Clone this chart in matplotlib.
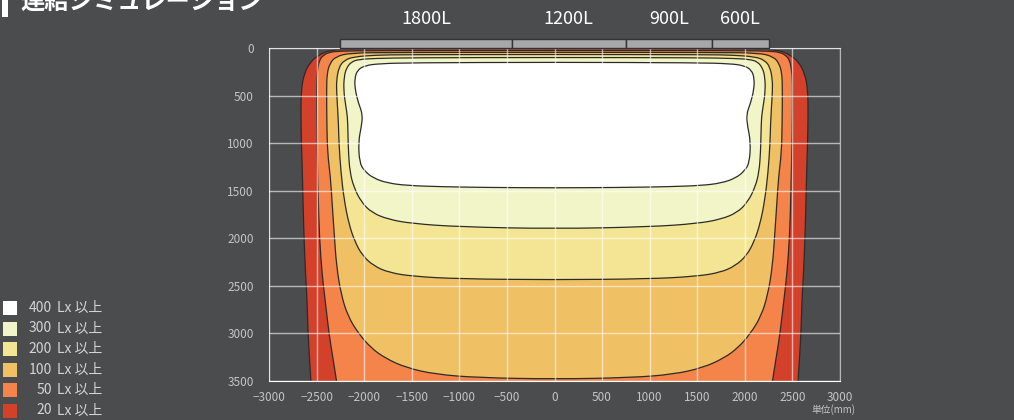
import matplotlib
matplotlib.use('Agg')
import matplotlib.pyplot as plt
from matplotlib.patches import Rectangle, PathPatch
from matplotlib.path import Path
import numpy as np

plt.rcParams['font.family'] = ['Noto Sans CJK JP', 'DejaVu Sans']

BG = '#4b4c4e'
W, H = 1014, 420

# lights along the ceiling (mm)
light_names = ['1800L', '1200L', '900L', '600L']
light_len = [1800, 1200, 900, 600]
light_start = -2250

# iso-lux levels, outer to inner
levels = [20, 50, 100, 200, 300, 400]
level_colors = ['#d4412a', '#f5844a', '#f0c064', '#f4e594', '#f2f5c8', '#ffffff']

# right half of each iso-lux line (x mm, depth mm), from top centre to bottom centre
lx20_x = [0, 2100, 2360, 2476, 2560, 2630, 2662, 2665, 2660, 2650, 2640, 2632, 2615, 2600, 2590, 2575, 2560, 2550, 0]
lx20_y = [8, 10, 21, 74, 140, 266, 441, 700, 966, 1300, 1700, 2000, 2400, 2650, 3000, 3250, 3500, 3650, 3650]

lx50_x = [0, 1900, 2250, 2370, 2435, 2470, 2490, 2500, 2500, 2495, 2485, 2470, 2440, 2410, 2370, 2330, 2290, 2270, 0]
lx50_y = [25, 27, 32, 45, 80, 130, 220, 350, 600, 1000, 1500, 2000, 2400, 2650, 3000, 3250, 3500, 3650, 3650]

lx100_x = [0, 1700, 2150, 2300, 2360, 2390, 2395, 2392, 2385, 2355, 2335, 2315, 2290, 2240, 2170, 2060, 1930, 1780, 1560, 1250, 800, 0]
lx100_y = [45, 47, 52, 91, 161, 266, 441, 800, 1100, 1350, 1650, 1950, 2300, 2600, 2820, 3000, 3150, 3260, 3360, 3430, 3465, 3480]

lx200_x = [0, 1600, 1870, 2110, 2210, 2265, 2290, 2290, 2280, 2270, 2265, 2245, 2210, 2160, 2100, 2020, 1900, 1740, 1490, 1000, 0]
lx200_y = [68, 70, 75, 92, 130, 200, 336, 450, 620, 800, 1000, 1300, 1600, 1850, 2030, 2180, 2290, 2360, 2400, 2427, 2436]

lx300_x = [0, 1500, 1900, 2050, 2135, 2187, 2210, 2216, 2195, 2175, 2170, 2165, 2150, 2110, 2030, 1920, 1750, 1500, 1000, 0]
lx300_y = [100, 102, 110, 120, 144, 213, 300, 440, 600, 720, 900, 1100, 1300, 1460, 1620, 1730, 1800, 1845, 1880, 1900]

lx400_x = [0, 1500, 1850, 1990, 2070, 2100, 2095, 2060, 2015, 2030, 2060, 2050, 2000, 1900, 1750, 1550, 1200, 700, 0]
lx400_y = [150, 155, 165, 185, 230, 320, 440, 580, 700, 830, 980, 1200, 1290, 1370, 1420, 1445, 1458, 1466, 1470]

contours = [(lx20_x, lx20_y), (lx50_x, lx50_y), (lx100_x, lx100_y),
            (lx200_x, lx200_y), (lx300_x, lx300_y), (lx400_x, lx400_y)]


def smooth_closed_path(pts):
    # quadratic bezier through the midpoints, the traced points act as control points
    n = len(pts)
    mids = (pts + np.roll(pts, -1, axis=0)) / 2
    verts = [mids[-1]]
    codes = [Path.MOVETO]
    for i in range(n):
        verts += [pts[i], mids[i]]
        codes += [Path.CURVE3, Path.CURVE3]
    return Path(np.array(verts), codes)


fig = plt.figure(figsize=(W / 100, H / 100), dpi=100, facecolor=BG)
ax = fig.add_axes([269 / W, 1 - 381 / H, 571 / W, 333 / H])
ax.set_facecolor(BG)

for (hx, hy), col in zip(contours, level_colors):
    hx = np.array(hx, float)
    hy = np.array(hy, float)
    px = np.concatenate([hx, -hx[-2:0:-1]])
    py = np.concatenate([hy, hy[-2:0:-1]])
    path = smooth_closed_path(np.column_stack([px, py]))
    ax.add_patch(PathPatch(path, facecolor=col, edgecolor='#2b2b2b', lw=0.9, zorder=1))

ax.set_xlim(-3000, 3000)
ax.set_ylim(3500, 0)
ax.set_xticks(np.arange(-3000, 3001, 500))
ax.set_yticks(np.arange(0, 3501, 500))
ax.set_axisbelow(False)
ax.grid(True, color='white', alpha=0.6, lw=1)
ax.tick_params(length=0, labelsize=8.5, labelcolor='#c4c4c4')
ax.tick_params(axis='y', pad=11)
ax.tick_params(axis='x', pad=7)
for s in ['left', 'top', 'right']:
    ax.spines[s].set_color((1, 1, 1, 0.6))
ax.spines['bottom'].set_color('white')

# light bars above the chart
edges = light_start + np.concatenate([[0], np.cumsum(light_len)])
for left, ln, name in zip(edges[:-1], light_len, light_names):
    ax.add_patch(Rectangle((left, -90), ln, 90, facecolor='#a7a8aa', edgecolor='#333333',
                           lw=1, clip_on=False, zorder=3))
    ax.text(left + ln / 2, -300, name, ha='center', va='center', color='white',
            fontsize=13, clip_on=False)

fig.text(833 / W, 1 - 410 / H, '単位(mm)', ha='center', va='center', color='#c4c4c4', fontsize=7)

# title (cut by the top edge, as in the original)
fig.add_artist(Rectangle((2 / W, 1 - 17 / H), 6 / W, 17 / H, transform=fig.transFigure,
                         facecolor='white', edgecolor='none'))
fig.text(20 / W, 1 - 2 / H, '連結シミュレーション', ha='left', va='center', color='white',
         fontsize=17.5, fontweight='bold')

# legend
for i, (lv, col) in enumerate(zip(levels[::-1], level_colors[::-1])):
    yc = 308 + i * 20.5
    fig.add_artist(Rectangle((2.5 / W, 1 - (yc + 7) / H), 14 / W, 14 / H,
                             transform=fig.transFigure, facecolor=col, edgecolor='none'))
    fig.text(52 / W, 1 - yc / H, str(lv), ha='right', va='center', color='#d4d4d4', fontsize=10)
    fig.text(57 / W, 1 - yc / H, 'Lx 以上', ha='left', va='center', color='#d4d4d4', fontsize=10)

fig.savefig('out.png', dpi=100, facecolor=BG)
